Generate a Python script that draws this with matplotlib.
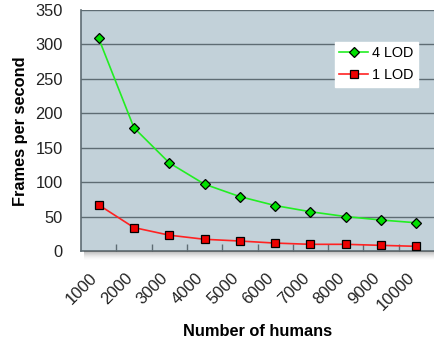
import matplotlib
matplotlib.use("Agg")
import matplotlib.pyplot as plt
import matplotlib.transforms as mtransforms
from matplotlib.patches import Rectangle

plt.rcParams['font.family'] = ['Liberation Sans', 'DejaVu Sans']

categories = ["1000", "2000", "3000", "4000", "5000",
              "6000", "7000", "8000", "9000", "10000"]
fps_4lod = [309, 179, 128, 97, 79, 66, 57, 50, 45, 41]
fps_1lod = [67, 34, 23, 17, 14.5, 11.5, 9.7, 9.7, 8.2, 6.8]
y_ticks = [0, 50, 100, 150, 200, 250, 300, 350]

W, H, DPI = 434, 345, 100
fig = plt.figure(figsize=(W / DPI, H / DPI), dpi=DPI)
fig.patch.set_facecolor('white')

left, right, top, bottom = 81, 434, 10, 251
ax = fig.add_axes([left / W, 1 - bottom / H, (right - left) / W, (bottom - top) / H])

# soft drop shadow under the plot area
for i in range(9):
    a = 0.09 * (1 - i / 9)
    fig.patches.append(Rectangle(((left + 3) / W, (H - bottom - 1 - i) / H),
                                 (right - left) / W, (1 + i) / H,
                                 transform=fig.transFigure, color='#505050',
                                 alpha=a, zorder=0, lw=0))

ax.set_facecolor('#C2D1D9')
x = list(range(len(categories)))
ax.set_xlim(-0.5, len(categories) - 0.5)
ax.set_ylim(0, 350)

ax.set_yticks(y_ticks)
ax.yaxis.grid(True, color='#5E6C73', lw=1.0)
ax.set_axisbelow(True)
ax.tick_params(axis='y', length=0, labelsize=11.8, pad=13, colors='#222222')

# category boundaries as inward ticks, labels drawn separately
ax.set_xticks([i + 0.5 for i in x[:-1]])
ax.set_xticklabels([])
ax.tick_params(axis='x', direction='in', length=5, color='#5E6C73', width=1)

off = mtransforms.ScaledTranslation(-9 / DPI, -19 / DPI, fig.dpi_scale_trans)
trans = mtransforms.blended_transform_factory(ax.transData, ax.transAxes) + off
for xi, lab in zip(x, categories):
    ax.text(xi, 0, lab, transform=trans, rotation=45, rotation_mode='anchor',
            ha='right', va='top', fontsize=12, color='#222222', clip_on=False)

for side in ['top', 'right']:
    ax.spines[side].set_visible(False)
ax.spines['left'].set_color('#5E6C73')
ax.spines['bottom'].set_color('#5E6C73')
ax.spines['left'].set_linewidth(1.2)
ax.spines['bottom'].set_linewidth(1.2)

ax.plot(x, fps_4lod, color='#22EE22', lw=1.2, marker='D', markersize=5.5,
        markerfacecolor='#00E000', markeredgecolor='black', markeredgewidth=0.9,
        label='4 LOD', zorder=3, clip_on=False)
ax.plot(x, fps_1lod, color='#FF2222', lw=1.2, marker='s', markersize=6,
        markerfacecolor='#EE0000', markeredgecolor='black', markeredgewidth=0.9,
        label='1 LOD', zorder=3, clip_on=False)

leg = ax.legend(loc='upper left', bbox_to_anchor=((335 - left) / (right - left),
                                                  1 - (42 - top) / (bottom - top)),
                fontsize=10.4, frameon=True, fancybox=False, borderaxespad=0,
                handlelength=2.0, handletextpad=0.25, labelspacing=0.55,
                borderpad=0.3)
leg.get_frame().set_facecolor('white')
leg.get_frame().set_edgecolor('white')
leg.get_frame().set_alpha(1)

fig.text(21 / W, 1 - 131 / H, 'Frames per second', rotation=90, ha='center',
         va='center', fontsize=11.8, fontweight='bold', color='black')
fig.text(258 / W, 1 - 332 / H, 'Number of humans', ha='center', va='center',
         fontsize=11.8, fontweight='bold', color='black')

fig.savefig('out.png', dpi=DPI)
